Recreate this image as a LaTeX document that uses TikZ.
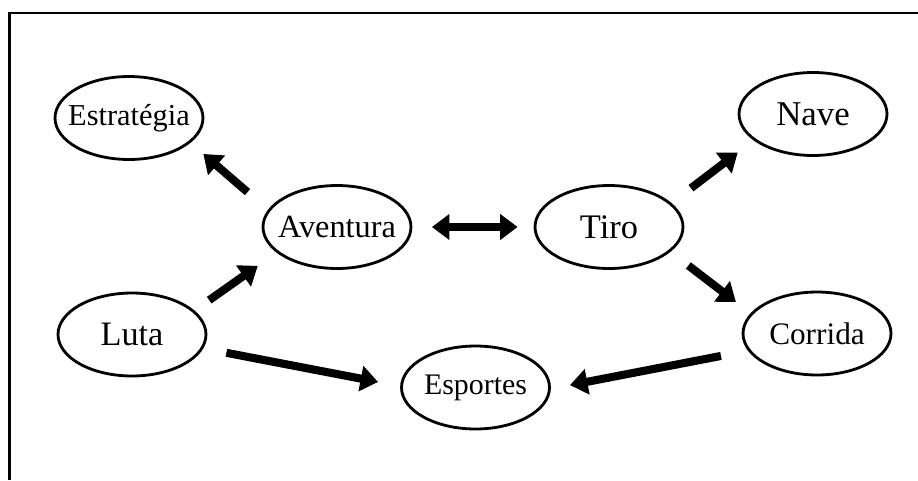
\documentclass[tikz,border=0pt]{standalone}
\usepackage{fontspec}
\setmainfont{Liberation Serif}
\usetikzlibrary{shapes.geometric,arrows.meta}

\begin{document}
\begin{tikzpicture}[x=0.02cm,y=-0.02cm,
  >={Triangle[length=0.35cm,width=0.5cm]},
  genre/.style={ellipse, draw, line width=1.6pt, minimum width=2.96cm, minimum height=1.66cm, inner ysep=0pt, inner xsep=-6pt},
  link/.style={line width=4.6pt}]
  \useasboundingbox (0,0) rectangle (918,480);
  % Coordinates
  \coordinate (frame-bl) at (9.5,480);
  \coordinate (frame-tr) at (918,13);
  % Frame
  \draw[line width=1.6pt] (frame-bl) |- (frame-tr);

  % Genres
  \node[genre, font=\fontsize{17.3}{19}\selectfont] (estrategia) at (129,118) {Estratégia};
  \node[genre, font=\fontsize{18.4}{20}\selectfont] (aventura) at (337,227) {Aventura};
  \node[genre, font=\fontsize{19.6}{21}\selectfont] (tiro) at (609,227) {Tiro};
  \node[genre, font=\fontsize{19.8}{21}\selectfont] (nave) at (813,114) {Nave};
  \node[genre, font=\fontsize{19.5}{21}\selectfont] (luta) at (132,334.5) {Luta};
  \node[genre, font=\fontsize{17.8}{19}\selectfont] (corrida) at (817,333.5) {Corrida};
  \node[genre, font=\fontsize{17}{19}\selectfont] (esportes) at (475.5,387.5) {Esportes};

  % Arrows
  \draw[link,->,shorten <=0.54cm,shorten >=0.34cm] (aventura.166) -- (estrategia.-22);
  \draw[link,->,shorten <=0.36cm,shorten >=0.46cm] (luta.21) -- (aventura.203);
  \draw[link,<->,shorten <=0.39cm,shorten >=0.32cm] (aventura.east) -- (tiro.west);
  \draw[link,->,shorten <=0.49cm,shorten >=0.40cm] (tiro.21) -- (nave.204);
  \draw[link,->,shorten <=0.45cm,shorten >=0.37cm] (tiro.-22) -- (corrida.163.5);
  \draw[link,->,shorten <=0.47cm,shorten >=0.45cm] (luta.-11.5) -- (esportes.179);
  \draw[link,->,shorten <=0.55cm,shorten >=0.39cm] (corrida.194.6) -- (esportes.-1);
\end{tikzpicture}
\end{document}
